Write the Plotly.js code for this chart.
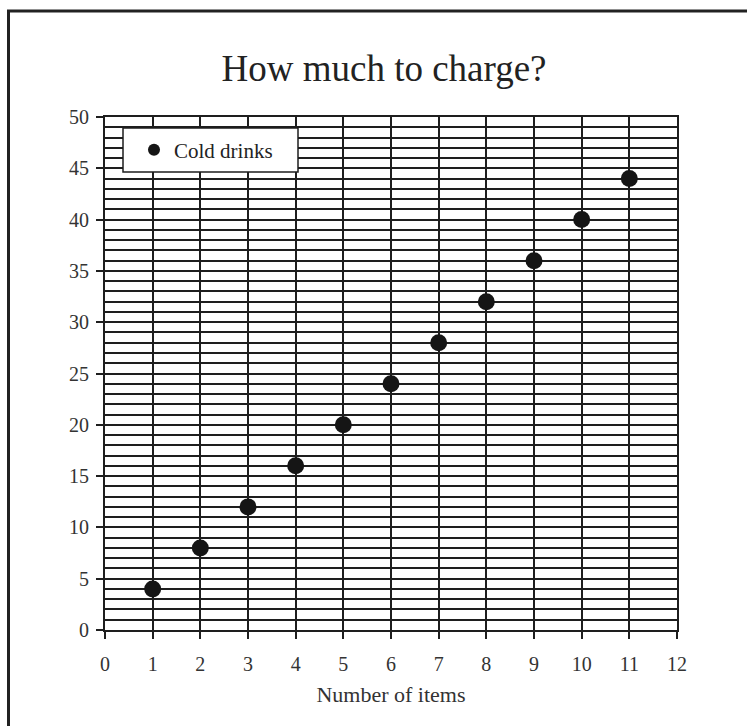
<!DOCTYPE html>
<html>
<head>
<meta charset="utf-8">
<script src="https://cdn.plot.ly/plotly-3.0.1.min.js"></script>
<style>
  html, body { margin: 0; padding: 0; background: #fff; }
  #chart { width: 747px; height: 726px; }
</style>
</head>
<body>
<div id="chart"></div>
<script>
const items = [1, 2, 3, 4, 5, 6, 7, 8, 9, 10, 11];
const coldDrinks = [4, 8, 12, 16, 20, 24, 28, 32, 36, 40, 44];
const seriesName = "Cold drinks";
const titleText = "How much to charge?";
const xTitle = "Number of items";

const L = 105, R = 70, T = 117, B = 96;
const W = 747, H = 726;
const pw = W - L - R, ph = H - T - B;
const px = v => (v - L) / pw;
const py = v => (H - B - v) / ph;

const FONT = "Liberation Serif, Times New Roman, serif";
const INK = "#1e1e1e";

const trace = {
  x: items,
  y: coldDrinks,
  name: seriesName,
  type: "scatter",
  mode: "markers",
  marker: { size: 17, color: "#151515" },
  showlegend: false,
  cliponaxis: false
};

// legend entry (smaller symbol as in the reference legend)
const legendEntry = {
  x: [null],
  y: [null],
  name: seriesName,
  type: "scatter",
  mode: "markers",
  marker: { size: 12, color: "#151515" },
  showlegend: true,
  hoverinfo: "skip"
};

const layout = {
  width: W, height: H,
  margin: { l: L, r: R, t: T, b: B, pad: 0 },
  paper_bgcolor: "#fff",
  plot_bgcolor: "#fff",
  font: { family: FONT, color: "#333", size: 16 },
  title: {
    text: titleText,
    font: { family: FONT, size: 37, color: "#222" },
    x: 384 / W, xref: "container", xanchor: "center",
    y: 1 - 68 / H, yref: "container", yanchor: "middle"
  },
  xaxis: {
    range: [0, 12],
    dtick: 1, tick0: 0,
    showgrid: true, gridcolor: INK, gridwidth: 2,
    zeroline: false,
    showline: true, linecolor: INK, linewidth: 2, mirror: true,
    ticks: "outside", ticklen: 7, tickwidth: 2, tickcolor: INK,
    ticklabelstandoff: 8,
    tickfont: { family: FONT, size: 20, color: "#333" },
    title: { text: xTitle, font: { family: FONT, size: 22, color: "#333" }, standoff: 13 },
    fixedrange: true
  },
  yaxis: {
    range: [0, 50],
    dtick: 5, tick0: 0,
    showgrid: true, gridcolor: INK, gridwidth: 2,
    minor: { dtick: 1, showgrid: true, gridcolor: INK, gridwidth: 2, ticks: "" },
    zeroline: false,
    showline: true, linecolor: INK, linewidth: 2, mirror: true,
    ticks: "outside", ticklen: 7, tickwidth: 2, tickcolor: INK,
    ticklabelstandoff: 3,
    tickfont: { family: FONT, size: 20, color: "#333" },
    fixedrange: true
  },
  showlegend: true,
  legend: {
    x: px(134), xanchor: "left",
    y: py(150), yanchor: "middle",
    bgcolor: "rgba(0,0,0,0)",
    borderwidth: 0,
    font: { family: FONT, size: 21, color: "#222" }
  },
  shapes: [
    { type: "rect", xref: "paper", yref: "paper",
      x0: px(123), x1: px(298), y0: py(172), y1: py(128),
      fillcolor: "#fff", line: { color: INK, width: 1.5 }, layer: "above" },
    { type: "line", xref: "paper", yref: "paper",
      x0: px(8.5), x1: px(8.5), y0: py(11), y1: py(740),
      line: { color: "#222", width: 3 } },
    { type: "line", xref: "paper", yref: "paper",
      x0: px(7), x1: px(760), y0: py(11), y1: py(11),
      line: { color: "#222", width: 3 } }
  ]
};

Plotly.newPlot("chart", [trace, legendEntry], layout, { staticPlot: true, displayModeBar: false });
</script>
</body>
</html>
